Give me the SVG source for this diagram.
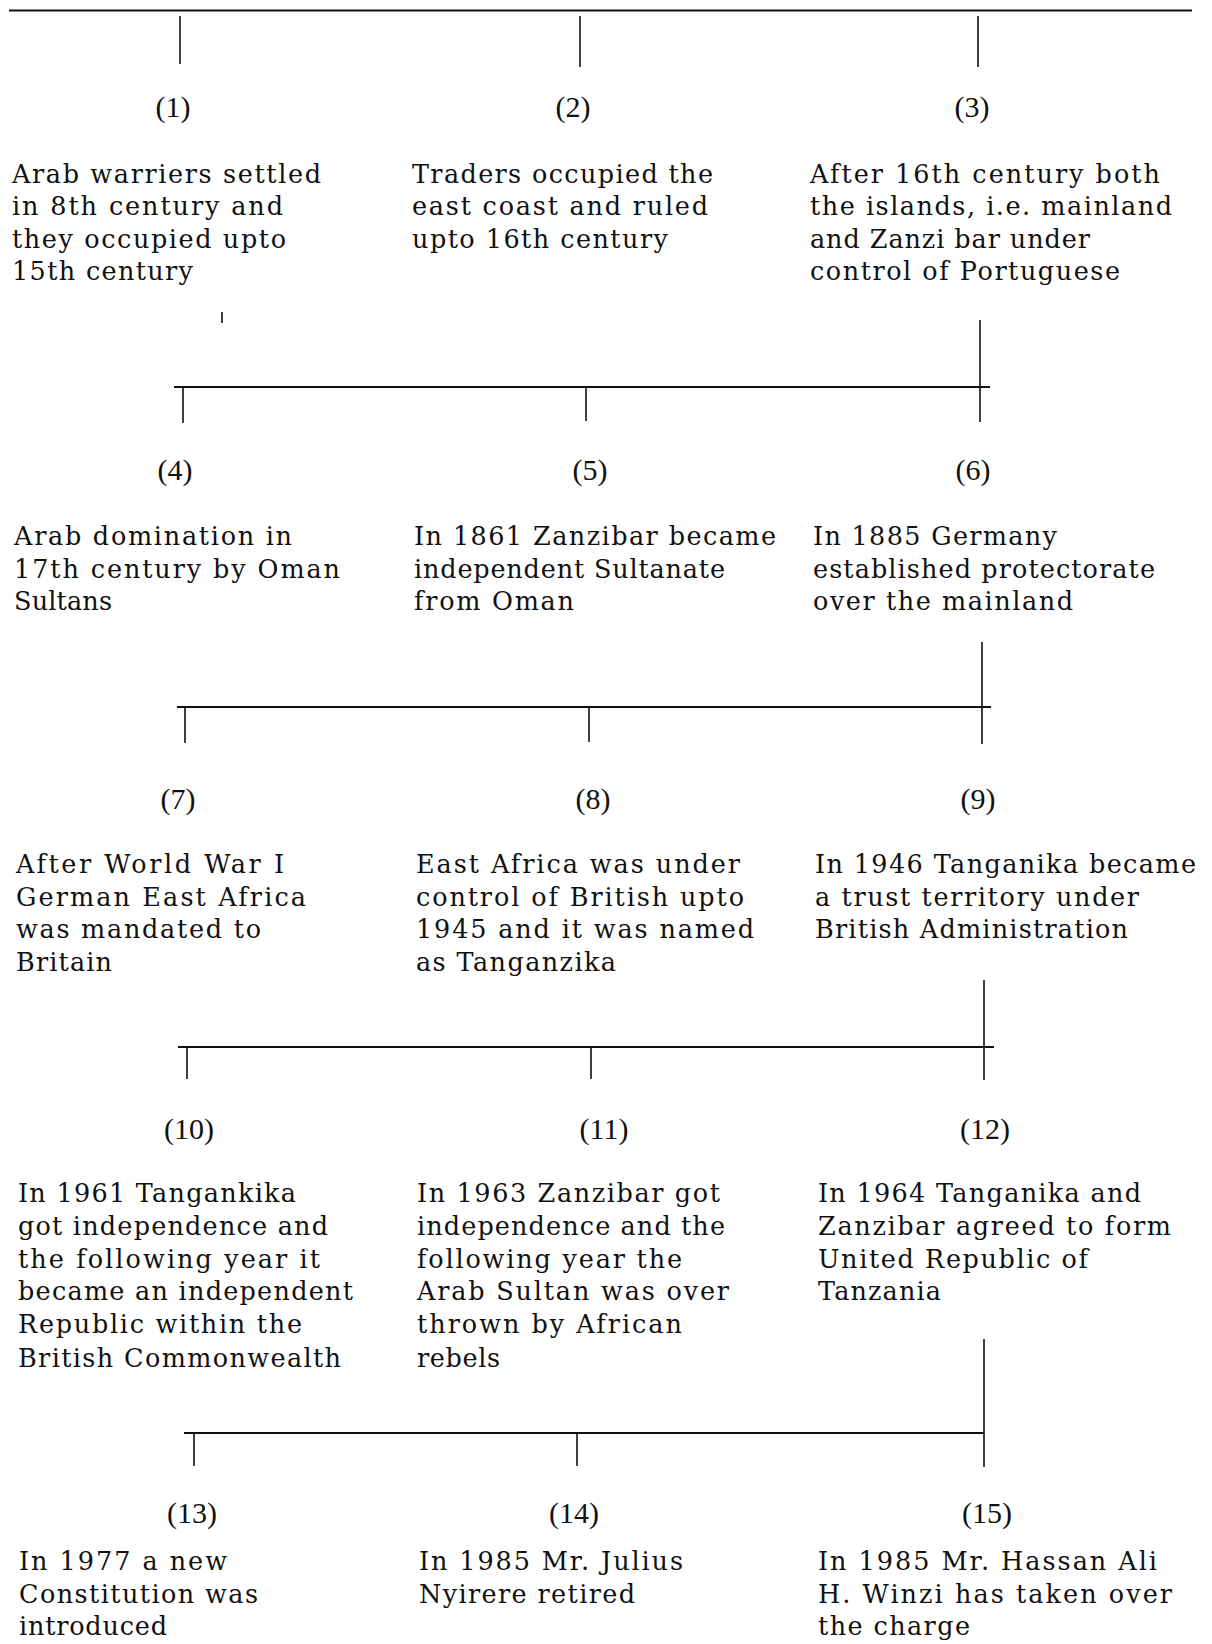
<svg xmlns="http://www.w3.org/2000/svg" width="1212" height="1644" viewBox="0 0 1212 1644">
<style>
text{font-family:"DejaVu Serif","Liberation Serif",serif;font-size:25.5px;fill:#111}
.n{font-family:"Liberation Serif","Times New Roman",serif;font-size:30px;text-anchor:middle}
.h{stroke:#111;stroke-width:2.2;fill:none}
.v{stroke:#111;stroke-width:1.6;fill:none}
</style>
<rect width="1212" height="1644" fill="#fff"/>
<g id="connectors">
<line class="h" x1="9" y1="10.5" x2="1192" y2="10.5"/>
<line class="v" x1="180" y1="16" x2="180" y2="64"/>
<line class="v" x1="580" y1="16" x2="580" y2="67"/>
<line class="v" x1="978" y1="16" x2="978" y2="67"/>
<line class="v" x1="222" y1="312" x2="222" y2="323"/>
<line class="h" x1="174" y1="387" x2="990" y2="387"/>
<line class="v" x1="980" y1="320" x2="980" y2="422"/>
<line class="v" x1="183" y1="387" x2="183" y2="423"/>
<line class="v" x1="586" y1="387" x2="586" y2="421"/>
<line class="h" x1="177" y1="707" x2="991" y2="707"/>
<line class="v" x1="982" y1="642" x2="982" y2="744"/>
<line class="v" x1="185" y1="707" x2="185" y2="743"/>
<line class="v" x1="589" y1="707" x2="589" y2="742"/>
<line class="h" x1="178" y1="1047" x2="994" y2="1047"/>
<line class="v" x1="984" y1="980" x2="984" y2="1080"/>
<line class="v" x1="187" y1="1047" x2="187" y2="1079"/>
<line class="v" x1="591" y1="1047" x2="591" y2="1079"/>
<line class="h" x1="184" y1="1433" x2="984" y2="1433"/>
<line class="v" x1="984" y1="1339" x2="984" y2="1467"/>
<line class="v" x1="194" y1="1433" x2="194" y2="1466"/>
<line class="v" x1="577" y1="1433" x2="577" y2="1466"/>
</g>
<g id="node1">
<text class="n" x="173" y="117">(1)</text>
<text x="12" y="183" textLength="309" lengthAdjust="spacing">Arab warriers settled</text>
<text x="12" y="215" textLength="271" lengthAdjust="spacing">in 8th century and</text>
<text x="12" y="248" textLength="274" lengthAdjust="spacing">they occupied upto</text>
<text x="12" y="280" textLength="181" lengthAdjust="spacing">15th century</text>
</g>
<g id="node2">
<text class="n" x="573" y="117">(2)</text>
<text x="412" y="183" textLength="301" lengthAdjust="spacing">Traders occupied the</text>
<text x="412" y="215" textLength="296" lengthAdjust="spacing">east coast and ruled</text>
<text x="412" y="248" textLength="256" lengthAdjust="spacing">upto 16th century</text>
</g>
<g id="node3">
<text class="n" x="972" y="117">(3)</text>
<text x="810" y="183" textLength="350" lengthAdjust="spacing">After 16th century both</text>
<text x="810" y="215" textLength="362" lengthAdjust="spacing">the islands, i.e. mainland</text>
<text x="810" y="248" textLength="280" lengthAdjust="spacing">and Zanzi bar under</text>
<text x="810" y="280" textLength="310" lengthAdjust="spacing">control of Portuguese</text>
</g>
<g id="node4">
<text class="n" x="175" y="480">(4)</text>
<text x="14" y="545" textLength="278" lengthAdjust="spacing">Arab domination in</text>
<text x="14" y="578" textLength="326" lengthAdjust="spacing">17th century by Oman</text>
<text x="14" y="610" textLength="98" lengthAdjust="spacing">Sultans</text>
</g>
<g id="node5">
<text class="n" x="590" y="480">(5)</text>
<text x="414" y="545" textLength="362" lengthAdjust="spacing">In 1861 Zanzibar became</text>
<text x="414" y="578" textLength="311" lengthAdjust="spacing">independent Sultanate</text>
<text x="414" y="610" textLength="160" lengthAdjust="spacing">from Oman</text>
</g>
<g id="node6">
<text class="n" x="973" y="480">(6)</text>
<text x="813" y="545" textLength="244" lengthAdjust="spacing">In 1885 Germany</text>
<text x="813" y="578" textLength="342" lengthAdjust="spacing">established protectorate</text>
<text x="813" y="610" textLength="260" lengthAdjust="spacing">over the mainland</text>
</g>
<g id="node7">
<text class="n" x="178" y="809">(7)</text>
<text x="16" y="873" textLength="268" lengthAdjust="spacing">After World War I</text>
<text x="16" y="906" textLength="290" lengthAdjust="spacing">German East Africa</text>
<text x="16" y="938" textLength="245" lengthAdjust="spacing">was mandated to</text>
<text x="16" y="971" textLength="96" lengthAdjust="spacing">Britain</text>
</g>
<g id="node8">
<text class="n" x="593" y="809">(8)</text>
<text x="416" y="873" textLength="324" lengthAdjust="spacing">East Africa was under</text>
<text x="416" y="906" textLength="328" lengthAdjust="spacing">control of British upto</text>
<text x="416" y="938" textLength="338" lengthAdjust="spacing">1945 and it was named</text>
<text x="416" y="971" textLength="200" lengthAdjust="spacing">as Tanganzika</text>
</g>
<g id="node9">
<text class="n" x="978" y="809">(9)</text>
<text x="815" y="873" textLength="381" lengthAdjust="spacing">In 1946 Tanganika became</text>
<text x="815" y="906" textLength="324" lengthAdjust="spacing">a trust territory under</text>
<text x="815" y="938" textLength="313" lengthAdjust="spacing">British Administration</text>
</g>
<g id="node10">
<text class="n" x="189" y="1139">(10)</text>
<text x="18" y="1202" textLength="278" lengthAdjust="spacing">In 1961 Tangankika</text>
<text x="18" y="1235" textLength="310" lengthAdjust="spacing">got independence and</text>
<text x="18" y="1268" textLength="302" lengthAdjust="spacing">the following year it</text>
<text x="18" y="1300" textLength="335" lengthAdjust="spacing">became an independent</text>
<text x="18" y="1333" textLength="284" lengthAdjust="spacing">Republic within the</text>
<text x="18" y="1367" textLength="323" lengthAdjust="spacing">British Commonwealth</text>
</g>
<g id="node11">
<text class="n" x="604" y="1139">(11)</text>
<text x="417" y="1202" textLength="303" lengthAdjust="spacing">In 1963 Zanzibar got</text>
<text x="417" y="1235" textLength="308" lengthAdjust="spacing">independence and the</text>
<text x="417" y="1268" textLength="265" lengthAdjust="spacing">following year the</text>
<text x="417" y="1300" textLength="312" lengthAdjust="spacing">Arab Sultan was over</text>
<text x="417" y="1333" textLength="265" lengthAdjust="spacing">thrown by African</text>
<text x="417" y="1367" textLength="83" lengthAdjust="spacing">rebels</text>
</g>
<g id="node12">
<text class="n" x="985" y="1139">(12)</text>
<text x="818" y="1202" textLength="323" lengthAdjust="spacing">In 1964 Tanganika and</text>
<text x="818" y="1235" textLength="353" lengthAdjust="spacing">Zanzibar agreed to form</text>
<text x="818" y="1268" textLength="270" lengthAdjust="spacing">United Republic of</text>
<text x="818" y="1300" textLength="123" lengthAdjust="spacing">Tanzania</text>
</g>
<g id="node13">
<text class="n" x="192" y="1523">(13)</text>
<text x="19" y="1570" textLength="208" lengthAdjust="spacing">In 1977 a new</text>
<text x="19" y="1603" textLength="239" lengthAdjust="spacing">Constitution was</text>
<text x="19" y="1635" textLength="148" lengthAdjust="spacing">introduced</text>
</g>
<g id="node14">
<text class="n" x="574" y="1523">(14)</text>
<text x="419" y="1570" textLength="264" lengthAdjust="spacing">In 1985 Mr. Julius</text>
<text x="419" y="1603" textLength="216" lengthAdjust="spacing">Nyirere retired</text>
</g>
<g id="node15">
<text class="n" x="987" y="1523">(15)</text>
<text x="818" y="1570" textLength="339" lengthAdjust="spacing">In 1985 Mr. Hassan Ali</text>
<text x="818" y="1603" textLength="354" lengthAdjust="spacing">H. Winzi has taken over</text>
<text x="818" y="1635" textLength="152" lengthAdjust="spacing">the charge</text>
</g>
</svg>
